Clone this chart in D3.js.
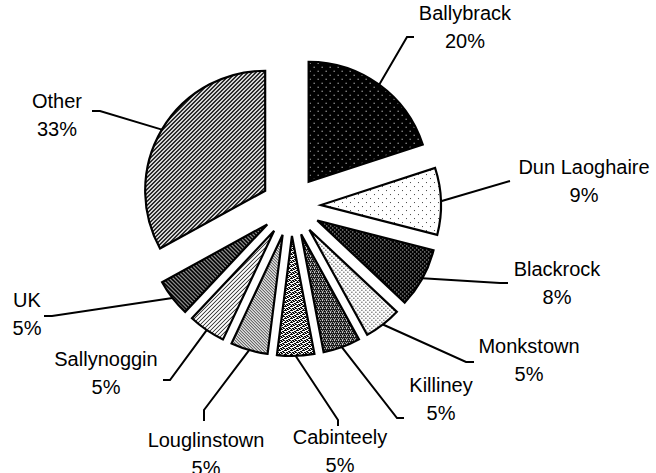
<!DOCTYPE html>
<html><head><meta charset="utf-8">
<script src="https://cdn.jsdelivr.net/npm/d3@7"></script>
<style>body{margin:0;background:#fff}svg{display:block}</style>
</head><body>
<script>
const categories = ["Ballybrack","Dun Laoghaire","Blackrock","Monkstown","Killiney","Cabinteely","Louglinstown","Sallynoggin","UK","Other"];
const values = [20,9,8,5,5,5,5,5,5,33];
const labels = ["20%","9%","8%","5%","5%","5%","5%","5%","5%","33%"];

// layout (label anchor, leader elbow points)
const labelLayout = [
  {tx:465, ty:20, pts:[[407,37],[414,37]]},
  {tx:584, ty:174, pts:[[510,181]]},
  {tx:557, ty:276, pts:[[500,283],[508,283]]},
  {tx:529, ty:353, pts:[[466,362],[474,362]]},
  {tx:441, ty:392, pts:[[397,418],[404,418]]},
  {tx:340, ty:444, pts:[[338,420],[338,426]]},
  {tx:206, ty:447, pts:[[204,410],[204,421]]},
  {tx:106, ty:366, pts:[[170,380],[163,380]]},
  {tx:27, ty:307, pts:[[52,316],[44,316]]},
  {tx:57, ty:108, pts:[[100,111],[92,111]]}
];

const W=656,H=473, cx=291, cy=206, R=120, explode=30;
const svg=d3.select("body").append("svg").attr("width",W).attr("height",H);
const defs=svg.append("defs");

function pat(id,w,h,bg,draw){
  const p=defs.append("pattern").attr("id",id).attr("patternUnits","userSpaceOnUse").attr("width",w).attr("height",h);
  p.append("rect").attr("width",w).attr("height",h).attr("fill",bg);
  draw(p);
}
function dots(p,col,list){list.forEach(([x,y])=>p.append("rect").attr("x",x).attr("y",y).attr("width",1).attr("height",1).attr("fill",col));}
// Ballybrack: black with sparse white dots
pat("p0",8,8,"#000",p=>dots(p,"#fff",[[1,1],[5,5]]));
// Dun Laoghaire: white with sparse dark dots
pat("p1",8,8,"#fff",p=>dots(p,"#444",[[1,1],[5,5]]));
// Blackrock: black with denser white dots
pat("p2",4,4,"#000",p=>dots(p,"#fff",[[1,1],[3,3]]));
// Monkstown: white with denser black dots
pat("p3",4,4,"#fff",p=>dots(p,"#000",[[0,0],[2,2]]));
// Killiney: dark checker
pat("p4",4,4,"#000",p=>dots(p,"#fff",[[0,0],[2,0],[1,2],[3,2],[1,1]]));
// Cabinteely: gray wavy
pat("p5",6,4,"#fff",p=>dots(p,"#000",[[0,0],[1,1],[2,1],[3,0],[4,0],[5,1],[0,2],[2,3],[3,3],[5,2],[1,0],[4,2]]));
// Louglinstown: diagonal medium-light
pat("p6",3,3,"#fff",p=>dots(p,"#000",[[0,0],[1,1],[2,2]]));
// Sallynoggin: diagonal light
pat("p7",4,4,"#fff",p=>dots(p,"#000",[[3,0],[2,1],[1,2],[0,3]]));
// UK: dark diagonal
pat("p8",4,4,"#000",p=>dots(p,"#fff",[[0,0],[1,1],[2,2],[3,3]]));
// Other: diagonal 50%
pat("p9",4,4,"#fff",p=>{dots(p,"#000",[[3,0],[2,1],[1,2],[0,3],[0,0],[3,1],[2,2],[1,3]]);});

const pie=d3.pie().sort(null).value(d=>d).startAngle(0).endAngle(2*Math.PI);
const arcs=pie(values);
const arc=d3.arc().innerRadius(0).outerRadius(R);

const g=svg.append("g").attr("transform",`translate(${cx},${cy})`);
arcs.forEach((a,i)=>{
  const m=(a.startAngle+a.endAngle)/2;
  const dx=explode*Math.sin(m), dy=-explode*Math.cos(m);
  g.append("path").attr("d",arc(a)).attr("transform",`translate(${dx},${dy})`)
    .attr("fill",`url(#p${i})`).attr("stroke","#000").attr("stroke-width",2.2).attr("stroke-linejoin","miter");
});

// leader lines
arcs.forEach((a,i)=>{
  const m=(a.startAngle+a.endAngle)/2;
  const r=R+explode;
  const sx=cx+r*Math.sin(m), sy=cy-r*Math.cos(m);
  const pts=[[sx,sy],...labelLayout[i].pts];
  svg.append("path").attr("d",d3.line()(pts)).attr("fill","none").attr("stroke","#000").attr("stroke-width",2);
});

// labels
categories.forEach((c,i)=>{
  const L=labelLayout[i];
  const t=svg.append("text").attr("x",L.tx).attr("y",L.ty).attr("text-anchor","middle")
    .attr("font-family","Liberation Sans, Arial, sans-serif").attr("font-size",20).attr("fill","#000");
  t.append("tspan").attr("x",L.tx).text(c);
  t.append("tspan").attr("x",L.tx).attr("dy",28).text(labels[i]);
});
</script>
</body></html>
